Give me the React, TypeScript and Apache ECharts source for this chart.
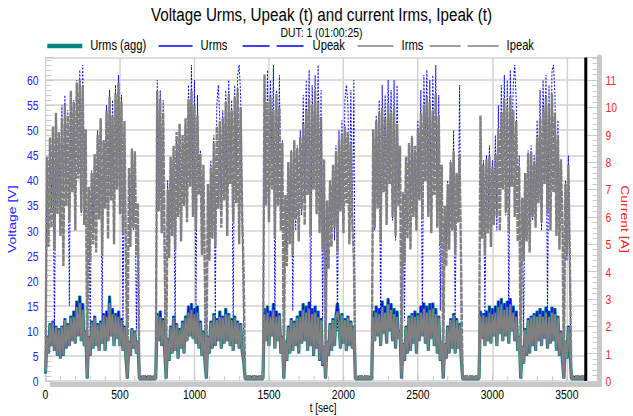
import React, { useEffect, useRef } from "react";
import * as echarts from "echarts";

// ---------- time base ----------
const STEP = 10; // seconds between samples inside a driving segment
const segmentStart = [0, 750, 1470, 2200, 2920];
const pauseEnd = [740, 1460, 2190, 2910, 3625];
const measurementEnd = 3625; // DUT time 01:00:25

// values during the standstill pauses
const pauseUrms = 0.5;
const pauseUpeak = 0.9;
const pauseIrms = 0.09;
const pauseIpeak = 0.16;

// ---------- Urms [V] ----------
const urms1 = [1.5, 9, 5.5, 11.5, 7, 12, 6, 11, 5, 10.5, 4.5, 11, 5, 12.5, 6.5, 11.5, 7, 13, 8, 14, 7.5, 16, 9, 17, 8, 15.5, 7, 10, 0.5, 9, 5, 12, 6.5, 13, 7, 11.5, 6, 12, 7.5, 13.5, 6, 14, 8, 17, 9, 14.5, 7, 13.5, 8.5, 14, 7, 12.5, 6, 11, 4.5, 0.5, 8, 5, 10.5, 6.5, 10, 5.5, 8];
const urms2 = [13.5, 8, 14, 7, 12.5, 6, 0.5, 8.5, 4, 11, 5.5, 13, 6, 11.5, 4.5, 10.5, 6.5, 12, 5.5, 13, 8, 15, 9, 15.5, 8.5, 14.5, 7.5, 15, 6.5, 12, 5, 10, 4, 0.5, 9, 5.5, 12, 6.5, 13.5, 7, 12.5, 8, 14, 6.5, 13, 7.5, 14.5, 8, 13.5, 7, 12.5, 6, 13, 7.5, 12, 6.5, 11.5, 6, 4];
const urms3 = [14.5, 8, 15, 7, 14, 9, 15.5, 6.5, 14, 8, 13.5, 5.5, 9, 0.5, 8, 4, 11, 5.5, 12.5, 6, 12, 7, 13, 5.5, 14, 7.5, 15.5, 8, 15, 6, 15.8, 7, 14.5, 5, 15, 6.5, 14, 4, 12.5, 3, 7, 0.5, 8, 5, 11.5, 6, 12.5, 7, 13, 15.5, 12, 6.5, 13.5, 7.5, 12.5, 6, 13, 7, 12, 6.5, 11];
const urms4 = [14, 8, 15, 9, 14.5, 7, 16, 9.5, 15, 7.5, 16.5, 10, 15.5, 8, 14.5, 6.5, 14, 8.5, 10, 0.5, 7.5, 4, 11, 5.5, 13, 6, 13.5, 7.5, 14, 5.5, 13.5, 8, 15, 9, 15.6, 7.5, 15, 6, 15.5, 8.5, 15.6, 7, 14.5, 5.5, 13, 4, 8, 0.5, 7.5, 4.5, 11, 5.5, 12.5, 6.5, 13.5, 5.5, 12.5, 6.5, 11.5, 5];
const urms5 = [14, 8.5, 13.5, 7, 14, 8, 15, 7.5, 14.5, 9, 15, 7, 16, 9.5, 16.5, 8, 15.5, 9, 16, 7.5, 16.5, 10, 15, 8, 14, 6, 9, 0.5, 7, 3.5, 10.5, 5, 12.5, 5.5, 13, 7, 13.5, 6, 14, 8, 14.5, 7, 14, 8.5, 14.8, 6.5, 14, 7.5, 14.8, 8, 14.5, 6, 13, 5, 10, 4, 0.5, 8, 4.5, 11, 6];

// ---------- Upeak [V] ----------
const upeak1 = [2, 44, 30, 47, 34, 50, 8, 52, 35, 49, 32, 55, 38, 57, 40, 54, 15, 58, 38, 56, 36, 60, 42, 62, 33, 63, 35, 50, 1, 38, 10, 42, 30, 45, 34, 50, 33, 52, 12, 48, 36, 55, 34, 58, 40, 56, 38, 59, 44, 61, 36, 57, 9, 50, 30, 1, 42, 28, 46, 30, 45, 10, 30];
const upeak2 = [60, 34, 58, 30, 56, 12, 1, 40, 28, 44, 32, 46, 10, 48, 34, 50, 30, 47, 36, 52, 33, 59, 43, 63, 36, 60, 14, 57, 38, 46, 30, 42, 8, 1, 38, 26, 44, 32, 49, 12, 55, 59, 52, 34, 54, 38, 58, 30, 60, 42, 56, 9, 59, 40, 61, 63, 57, 34, 10];
const upeak3 = [59, 35, 62, 32, 60, 44, 63, 10, 58, 38, 61, 34, 48, 1, 36, 26, 42, 30, 46, 14, 45, 30, 47, 32, 50, 33, 57, 36, 60, 45, 62, 8, 59, 41, 61, 34, 63, 30, 58, 12, 44, 1, 36, 28, 40, 30, 43, 28, 47, 10, 50, 34, 52, 32, 56, 59, 55, 36, 58, 30, 60];
const upeak4 = [50, 30, 53, 36, 56, 10, 59, 42, 57, 33, 60, 45, 58, 32, 60, 28, 59, 38, 46, 1, 37, 12, 44, 30, 47, 34, 49, 33, 46, 30, 52, 38, 58, 9, 61, 46, 62, 34, 60, 32, 61, 42, 63, 33, 57, 14, 42, 1, 34, 26, 40, 30, 44, 30, 50, 11, 41, 32, 59, 12];
const upeak5 = [52, 30, 44, 12, 45, 30, 47, 32, 44, 34, 49, 30, 55, 36, 59, 44, 61, 33, 60, 9, 62, 46, 59, 63, 56, 34, 45, 1, 36, 10, 41, 30, 46, 28, 47, 32, 45, 33, 52, 38, 58, 30, 60, 46, 61, 11, 59, 36, 62, 63, 57, 34, 52, 30, 44, 30, 1, 40, 24, 45, 20];

// ---------- Irms [A] ----------
const irms1 = [0.3, 1.62, 1.01, 2.06, 1.27, 2.14, 1.1, 1.97, 0.93, 1.88, 0.84, 1.97, 0.93, 2.23, 1.19, 2.06, 1.27, 2.32, 1.45, 2.35, 1.36, 2.7, 1.62, 2.85, 1.45, 2.6, 1.27, 1.8, 0.1, 1.62, 0.93, 2.14, 1.19, 2.32, 1.27, 2.06, 1.1, 2.14, 1.36, 2.4, 1.1, 2.35, 1.45, 2.85, 1.62, 2.45, 1.27, 2.4, 1.53, 2.35, 1.27, 2.23, 1.1, 1.97, 0.84, 0.1, 1.45, 0.93, 1.88, 1.19, 1.8, 1.01, 1.45];
const irms2 = [2.4, 1.45, 2.35, 1.27, 2.23, 1.1, 0.1, 1.53, 0.75, 1.97, 1.01, 2.32, 1.1, 2.06, 0.84, 1.88, 1.19, 2.14, 1.01, 2.32, 1.45, 2.5, 1.62, 2.6, 1.53, 2.45, 1.36, 2.5, 1.19, 2.14, 0.93, 1.8, 0.75, 0.1, 1.62, 1.01, 2.14, 1.19, 2.4, 1.27, 2.23, 1.45, 2.35, 1.19, 2.32, 1.36, 2.45, 1.45, 2.4, 1.27, 2.23, 1.1, 2.32, 1.36, 2.14, 1.19, 2.06, 1.1, 0.75];
const irms3 = [2.45, 1.45, 2.5, 1.27, 2.35, 1.62, 2.6, 1.19, 2.35, 1.45, 2.4, 1.01, 1.62, 0.1, 1.45, 0.75, 1.97, 1.01, 2.23, 1.1, 2.14, 1.27, 2.32, 1.01, 2.35, 1.36, 2.6, 1.45, 2.5, 1.1, 2.65, 1.27, 2.45, 0.93, 2.5, 1.19, 2.35, 0.75, 2.23, 0.58, 1.27, 0.1, 1.45, 0.93, 2.06, 1.1, 2.23, 1.27, 2.32, 2.55, 2.14, 1.19, 2.4, 1.36, 2.23, 1.1, 2.32, 1.27, 2.14, 1.19, 1.97];
const irms4 = [2.35, 1.45, 2.5, 1.62, 2.45, 1.27, 2.7, 1.71, 2.5, 1.36, 2.8, 1.8, 2.6, 1.45, 2.45, 1.19, 2.35, 1.53, 1.8, 0.1, 1.36, 0.75, 1.97, 1.01, 2.32, 1.1, 2.4, 1.36, 2.35, 1.01, 2.4, 1.45, 2.5, 1.62, 2.65, 1.36, 2.5, 1.1, 2.6, 1.53, 2.65, 1.27, 2.45, 1.01, 2.32, 0.75, 1.45, 0.1, 1.36, 0.84, 1.97, 1.01, 2.23, 1.19, 2.4, 1.01, 2.23, 1.19, 2.06, 0.93];
const irms5 = [2.35, 1.53, 2.4, 1.27, 2.35, 1.45, 2.5, 1.36, 2.45, 1.62, 2.5, 1.27, 2.7, 1.71, 2.8, 1.45, 2.6, 1.62, 2.7, 1.36, 2.8, 1.8, 2.5, 1.45, 2.35, 1.1, 1.62, 0.1, 1.27, 0.66, 1.88, 0.93, 2.23, 1.01, 2.32, 1.27, 2.4, 1.1, 2.35, 1.45, 2.45, 1.27, 2.35, 1.53, 2.5, 1.19, 2.35, 1.36, 2.5, 1.45, 2.45, 1.1, 2.32, 0.93, 1.8, 0.75, 0.1, 1.45, 0.84, 1.97, 1.1];

// ---------- Ipeak [A] ----------
const ipeak1 = [0.4, 8.2, 4.9, 8.9, 5.6, 9.3, 4.8, 9.8, 6.1, 9.1, 5.3, 9.6, 4.2, 10.1, 6.4, 9.7, 5.8, 10.6, 6.9, 10.2, 5.5, 10.9, 7.4, 11.0, 6.2, 10.8, 5.7, 9.2, 0.3, 7.1, 4.4, 7.6, 5.0, 8.3, 4.7, 9.0, 5.9, 9.6, 4.6, 8.8, 6.3, 9.9, 5.2, 10.4, 6.6, 9.7, 5.0, 10.5, 7.0, 10.9, 6.1, 10.2, 5.4, 9.5, 4.3, 0.3, 7.8, 4.9, 8.5, 5.6, 8.4, 4.6, 6.5];
const ipeak2 = [10.6, 6.2, 10.3, 5.4, 9.8, 4.9, 0.3, 7.0, 4.5, 8.2, 5.3, 8.6, 4.8, 9.1, 6.0, 9.4, 5.1, 9.0, 6.4, 9.6, 5.8, 10.3, 7.1, 10.6, 6.0, 10.1, 5.5, 9.7, 6.8, 8.3, 4.6, 7.9, 4.0, 0.3, 7.2, 4.4, 7.8, 5.2, 8.7, 4.9, 9.3, 6.3, 9.5, 5.6, 9.6, 6.6, 10.2, 5.3, 10.5, 7.2, 9.9, 5.8, 10.4, 6.5, 10.7, 5.0, 10.0, 6.1, 4.0];
const ipeak3 = [11.2, 6.5, 10.2, 5.8, 10.4, 7.0, 9.9, 5.2, 10.5, 6.4, 10.0, 5.5, 8.7, 0.3, 6.8, 4.2, 8.0, 5.0, 8.4, 4.6, 8.8, 5.9, 8.5, 5.1, 8.9, 6.3, 9.4, 5.7, 9.9, 6.8, 10.3, 5.3, 10.1, 7.0, 10.6, 6.1, 10.2, 5.4, 9.6, 4.8, 8.1, 0.3, 6.6, 4.1, 7.3, 4.9, 7.9, 5.6, 8.4, 4.7, 8.8, 6.2, 9.0, 5.4, 9.3, 6.5, 9.1, 5.0, 8.7, 5.8, 4.5];
const ipeak4 = [9.2, 5.6, 9.5, 6.3, 9.8, 5.1, 10.0, 6.9, 9.6, 5.7, 10.1, 7.2, 9.8, 6.0, 10.0, 5.3, 9.4, 6.4, 8.6, 0.3, 6.9, 4.3, 8.2, 5.2, 8.7, 4.8, 8.9, 6.0, 8.6, 5.5, 9.2, 6.6, 9.8, 5.9, 10.1, 7.3, 10.4, 6.0, 10.2, 5.4, 9.9, 6.8, 10.5, 5.6, 9.7, 5.0, 7.9, 0.3, 6.4, 4.2, 7.2, 4.8, 8.0, 5.5, 8.4, 4.6, 7.6, 5.8, 8.3, 4.2];
const ipeak5 = [9.7, 5.2, 7.9, 4.6, 8.1, 5.4, 8.2, 4.9, 7.8, 5.7, 8.3, 6.0, 9.2, 5.5, 9.8, 7.0, 10.3, 6.2, 10.0, 5.4, 10.4, 7.1, 9.9, 6.0, 9.5, 5.1, 7.8, 0.3, 6.7, 4.4, 7.6, 5.1, 8.3, 4.7, 8.4, 6.0, 8.0, 5.6, 8.9, 6.5, 9.6, 5.8, 10.0, 7.2, 10.4, 6.1, 10.1, 5.5, 10.5, 6.9, 9.8, 5.3, 9.0, 4.8, 8.1, 5.9, 0.3, 7.2, 4.6, 7.9, 4.4];

// ---------- texts ----------
const TITLE = "Voltage Urms, Upeak (t) and current Irms, Ipeak (t)";
const SUBTITLE = "DUT: 1 (01:00:25)";
const seriesNames = ["Urms (agg)", "Urms", "Upeak", "Irms", "Ipeak"];
const CURRENT_NAME = "Current [A]";

// ---------- styling / layout ----------
// The original picture is horizontally condensed: the chart is drawn 791px wide
// and squeezed to the 633px page with a CSS scaleX.
const PAGE_W = 633;
const PAGE_H = 416;
const CANVAS_W = 791;
const SX = PAGE_W / CANVAS_W;
const u = (px: number) => px / SX; // page px -> canvas px (horizontal)

const FONT = "'Liberation Sans', Arial, sans-serif";
const TEAL = "#00857e";
const BLUE = "#0000ff";
const GRAY = "#808080";
const VOLT_TXT = "#2323ff";
const AMP_TXT = "#ff2424";
const GRID_C = "#d2d2d2";
const TICK_C = "#c4c4c4";

const VMAX = 64.5;
const AMAX = (VMAX * 11) / 60;

const PLOT_L = 45.5; // page px
const PLOT_R = 585.5; // page px
const PLOT_T = 57.5;
const PLOT_B = 381;

function build(segs: number[][], pause: number): [number, number][] {
  const out: [number, number][] = [];
  segs.forEach((seg, i) => {
    seg.forEach((v, j) => out.push([segmentStart[i] + j * STEP, v]));
    const last = segmentStart[i] + (seg.length - 1) * STEP;
    out.push([last + STEP, pause]);
    out.push([pauseEnd[i], pause]);
  });
  return out;
}

const plain = (v: number) => String(v);

export default function App() {
  const ref = useRef<HTMLDivElement>(null);

  useEffect(() => {
    if (!ref.current) return;
    const chart = echarts.init(ref.current, null, { renderer: "svg" });

    const urmsData = build([urms1, urms2, urms3, urms4, urms5], pauseUrms);
    const upeakData = build([upeak1, upeak2, upeak3, upeak4, upeak5], pauseUpeak);
    const irmsData = build([irms1, irms2, irms3, irms4, irms5], pauseIrms);
    const ipeakData = build([ipeak1, ipeak2, ipeak3, ipeak4, ipeak5], pauseIpeak);

    const legendBase = {
      top: 39,
      padding: 0,
      itemHeight: 14,
      selectedMode: false,
      textStyle: { fontFamily: FONT, fontSize: 14, color: "#000", padding: [0, 0, 0, 5] },
      itemStyle: { opacity: 0 },
    };

    const option: any = {
      animation: false,
      backgroundColor: "#fff",
      graphic: [
        {
          type: "text",
          style: { text: TITLE, x: u(321.5), y: 14, align: "center", verticalAlign: "middle", fontFamily: FONT, fontSize: 19, fill: "#000" },
        },
        {
          type: "text",
          style: { text: SUBTITLE, x: u(321.5), y: 32, align: "center", verticalAlign: "middle", fontFamily: FONT, fontSize: 13, fill: "#000" },
        },
        {
          type: "text",
          x: u(625),
          y: 219,
          rotation: -Math.PI / 2,
          style: { text: CURRENT_NAME, x: 0, y: 0, align: "center", verticalAlign: "middle", fontFamily: FONT, fontSize: 14, fill: AMP_TXT },
        },
        {
          type: "rect",
          shape: { x: u(50), y: 382, width: u(552), height: 5 },
          style: { fill: "#c8c8c8" },
        },
      ],
      legend: [
        { ...legendBase, left: u(45.5), itemWidth: u(35), data: [seriesNames[0]], lineStyle: { width: 4.5 } },
        { ...legendBase, left: u(158), itemWidth: u(34), data: [seriesNames[1]], lineStyle: { width: 1.5 } },
        { ...legendBase, left: u(242), itemWidth: u(62), data: [seriesNames[2]], lineStyle: { width: 1.5, type: [u(27), u(7)] } },
        { ...legendBase, left: u(357), itemWidth: u(36), data: [seriesNames[3]], lineStyle: { width: 1.5 } },
        { ...legendBase, left: u(429), itemWidth: u(69), data: [seriesNames[4]], lineStyle: { width: 1.5, type: [u(31), u(7)] } },
      ],
      grid: {
        left: u(PLOT_L),
        right: CANVAS_W - u(PLOT_R),
        top: PLOT_T,
        bottom: PAGE_H - PLOT_B,
        containLabel: false,
        outerBoundsMode: "none",
      },
      xAxis: {
        type: "value",
        min: 0,
        max: measurementEnd,
        interval: 500,
        axisLine: { show: false },
        axisTick: { show: true, inside: true, length: 6, lineStyle: { color: TICK_C } },
        minorTick: { show: true, splitNumber: 5, length: 5, lineStyle: { color: TICK_C } },
        axisLabel: { color: "#000", fontFamily: FONT, fontSize: 13, margin: 7, showMaxLabel: false, formatter: plain },
        splitLine: { show: true, lineStyle: { color: GRID_C, width: 1.8 } },
        name: "t [sec]",
        nameLocation: "middle",
        nameGap: 20,
        nameMoveOverlap: false,
        nameTextStyle: { fontFamily: FONT, fontSize: 12.5, color: "#000", padding: [0, 0, 0, 19] },
      },
      yAxis: [
        {
          type: "value",
          min: 0,
          max: VMAX,
          interval: 5,
          position: "left",
          axisLine: { show: false },
          axisTick: { show: true, inside: true, length: u(8), lineStyle: { color: TICK_C } },
          minorTick: { show: true, splitNumber: 5, length: u(6), lineStyle: { color: TICK_C } },
          axisLabel: { color: VOLT_TXT, fontFamily: FONT, fontSize: 13, margin: u(7), showMaxLabel: false, formatter: plain },
          splitLine: { show: true, lineStyle: { color: GRID_C, width: 1.5 } },
          name: "Voltage [V]",
          nameLocation: "middle",
          nameRotate: 90,
          nameGap: u(27),
          nameTextStyle: { color: VOLT_TXT, fontFamily: FONT, fontSize: 14 },
        },
        {
          type: "value",
          min: 0,
          max: AMAX,
          interval: 1,
          position: "right",
          offset: u(14),
          axisLine: { show: true, lineStyle: { color: "#c8c8c8", width: u(5) } },
          axisTick: { show: true, inside: true, length: u(12), lineStyle: { color: TICK_C } },
          minorTick: { show: true, splitNumber: 5, length: u(7), lineStyle: { color: TICK_C } },
          axisLabel: { color: AMP_TXT, fontFamily: FONT, fontSize: 13, margin: u(6), showMaxLabel: false, formatter: plain },
          splitLine: { show: false },
        },
      ],
      series: [
        {
          name: seriesNames[0],
          type: "line",
          yAxisIndex: 0,
          data: urmsData,
          symbol: "none",
          color: TEAL,
          lineStyle: { color: TEAL, width: 4 },
          emphasis: { disabled: true },
          markLine: {
            silent: true,
            symbol: ["none", "none"],
            label: { show: false },
            lineStyle: { color: "#000", width: u(3), type: "solid" },
            emphasis: { disabled: true },
            data: [{ xAxis: measurementEnd }],
          },
        },
        {
          name: seriesNames[1],
          type: "line",
          yAxisIndex: 0,
          data: urmsData,
          symbol: "none",
          color: BLUE,
          lineStyle: { color: BLUE, width: 1.5 },
          emphasis: { disabled: true },
        },
        {
          name: seriesNames[2],
          type: "line",
          yAxisIndex: 0,
          data: upeakData,
          symbol: "none",
          color: BLUE,
          lineStyle: { color: BLUE, width: 1.2, type: [2, 1.5] },
          emphasis: { disabled: true },
        },
        {
          name: seriesNames[3],
          type: "line",
          yAxisIndex: 1,
          data: irmsData,
          symbol: "none",
          color: GRAY,
          lineStyle: { color: GRAY, width: 2.4 },
          emphasis: { disabled: true },
        },
        {
          name: seriesNames[4],
          type: "line",
          yAxisIndex: 1,
          data: ipeakData,
          symbol: "none",
          color: GRAY,
          lineStyle: { color: GRAY, width: 3, type: [6, 1] },
          emphasis: { disabled: true },
        },
      ],
    };

    chart.setOption(option);
    return () => chart.dispose();
  }, []);

  return (
    <div style={{ position: "absolute", left: 0, top: 0, width: PAGE_W, height: PAGE_H, overflow: "hidden", background: "#fff" }}>
      <div
        ref={ref}
        style={{ width: CANVAS_W, height: PAGE_H, transform: `scaleX(${SX})`, transformOrigin: "0 0" }}
      />
    </div>
  );
}
